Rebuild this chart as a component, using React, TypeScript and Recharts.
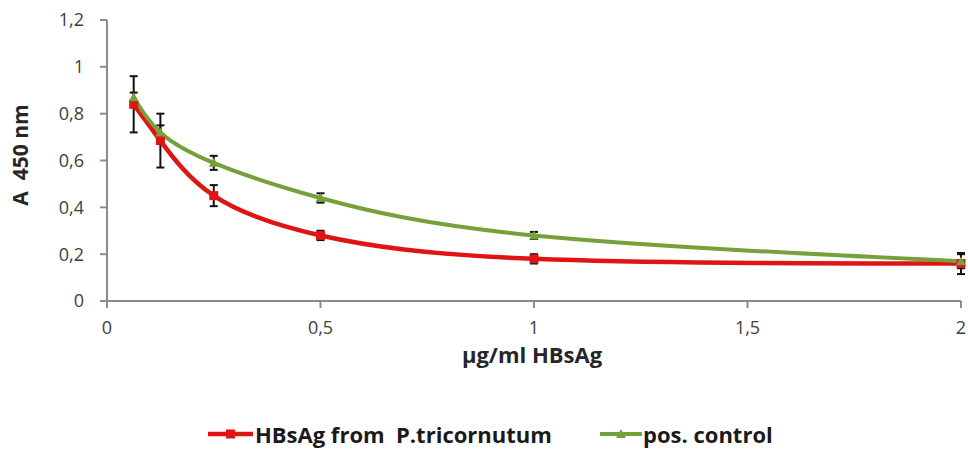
import React from 'react';
import { LineChart, Line, XAxis, YAxis, ErrorBar } from 'recharts';

// concentrations (µg/ml HBsAg)
const concentrations = [0.0625, 0.125, 0.25, 0.5, 1, 2];

// HBsAg from P.tricornutum
const algaeValues = [0.84, 0.685, 0.45, 0.28, 0.18, 0.16];
const algaeErrors = [0.12, 0.115, 0.045, 0.02, 0.02, 0.045];

// pos. control
const controlValues = [0.87, 0.72, 0.59, 0.44, 0.28, 0.17];
const controlErrors = [0.02, 0.03, 0.03, 0.02, 0.015, 0.03];

const xTicks = [0, 0.5, 1, 1.5, 2];
const yTicks = [0, 0.2, 0.4, 0.6, 0.8, 1, 1.2];

const RED = '#e01414';
const GREEN = '#76a03a';
const FONT = '"Open Sans", "Liberation Sans", sans-serif';

const data = concentrations.map((x, i) => ({
  x,
  algae: algaeValues[i],
  algaeErr: algaeErrors[i],
  control: controlValues[i],
  controlErr: controlErrors[i],
}));

const comma = (v: number) => String(v).replace('.', ',');

const SquareDot = (props: any) => {
  const { cx, cy } = props;
  if (cx == null || cy == null) return null;
  return <rect x={cx - 4.5} y={cy - 4.5} width={9} height={9} fill={RED} />;
};

const TriangleDot = (props: any) => {
  const { cx, cy } = props;
  if (cx == null || cy == null) return null;
  return <path d={`M${cx},${cy - 5} L${cx + 5},${cy + 4} L${cx - 5},${cy + 4} Z`} fill={GREEN} />;
};

const tickStyle = { fontSize: 18, fill: '#404040', fontFamily: FONT };

const legendText: React.CSSProperties = {
  position: 'absolute',
  top: 434,
  transform: 'translateY(-50%)',
  display: 'flex',
  alignItems: 'center',
  fontSize: 22,
  lineHeight: 1,
  fontWeight: 700,
  color: '#1a1a1a',
  whiteSpace: 'nowrap',
};

export default function App() {
  return (
    <div style={{ position: 'absolute', left: 0, top: 0, width: 968, height: 450, background: '#fff', fontFamily: FONT, overflow: 'hidden' }}>
      <LineChart width={968} height={450} data={data} margin={{ top: 20, right: 7, left: 0, bottom: 0 }}>
        <XAxis
          type="number"
          dataKey="x"
          domain={[0, 2]}
          ticks={xTicks}
          tickFormatter={comma}
          stroke="#8c8c8c"
          strokeWidth={2}
          tickSize={7}
          tickMargin={13}
          tick={tickStyle}
          height={149}
        />
        <YAxis
          type="number"
          domain={[0, 1.2]}
          ticks={yTicks}
          tickFormatter={comma}
          stroke="#8c8c8c"
          strokeWidth={2}
          tickSize={7}
          tickMargin={16}
          tick={tickStyle}
          width={107}
        />
        <Line
          type="natural"
          dataKey="algae"
          stroke={RED}
          strokeWidth={4.5}
          dot={<SquareDot />}
          activeDot={false}
          isAnimationActive={false}
        >
          <ErrorBar dataKey="algaeErr" width={4} stroke="#111" strokeWidth={2} direction="y" />
        </Line>
        <Line
          type="natural"
          dataKey="control"
          stroke={GREEN}
          strokeWidth={4}
          dot={<TriangleDot />}
          activeDot={false}
          isAnimationActive={false}
        >
          <ErrorBar dataKey="controlErr" width={4} stroke="#111" strokeWidth={2} direction="y" />
        </Line>
      </LineChart>

      {/* axis titles */}
      <div
        style={{
          position: 'absolute',
          left: 20,
          top: 155,
          transform: 'translate(-50%, -50%) rotate(-90deg)',
          fontSize: 21,
          fontWeight: 700,
          color: '#262626',
          whiteSpace: 'nowrap',
        }}
      >
        A&nbsp; 450 nm
      </div>
      <div
        style={{
          position: 'absolute',
          left: 532,
          top: 354,
          transform: 'translate(-50%, -50%)',
          fontSize: 22,
          fontWeight: 700,
          color: '#262626',
          whiteSpace: 'nowrap',
        }}
      >
        µg/ml HBsAg
      </div>

      {/* legend */}
      <div style={{ ...legendText, left: 208 }}>
        <svg width={45} height={12} style={{ marginRight: 2 }}>
          <line x1={0} y1={6} x2={45} y2={6} stroke={RED} strokeWidth={4.5} />
          <rect x={18} y={1.5} width={9} height={9} fill={RED} />
        </svg>
        <span>HBsAg from&nbsp; P.tricornutum</span>
      </div>
      <div style={{ ...legendText, left: 600 }}>
        <svg width={42} height={12} style={{ marginRight: 1 }}>
          <line x1={0} y1={6} x2={42} y2={6} stroke={GREEN} strokeWidth={4} />
          <path d="M21,1 L26,10 L16,10 Z" fill={GREEN} />
        </svg>
        <span>pos. control</span>
      </div>
    </div>
  );
}
